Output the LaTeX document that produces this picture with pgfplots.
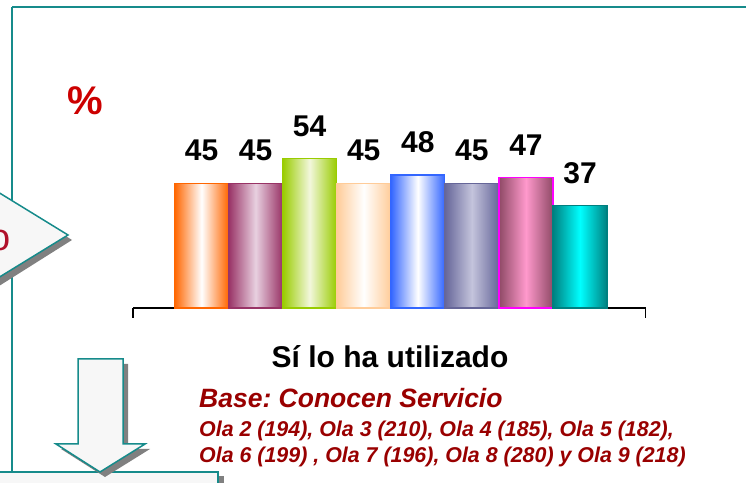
\documentclass[border=0pt]{standalone}
\usepackage{fontspec}
\setmainfont{Liberation Sans}
\usepackage{pgfplots}
\pgfplotsset{compat=1.18}

\definecolor{frame}{HTML}{168B8B}
\definecolor{boxfill}{HTML}{F7F7F7}
\definecolor{shadow}{HTML}{808080}
\definecolor{darkred}{HTML}{990000}
\definecolor{pct}{HTML}{CC0000}
\definecolor{chev}{HTML}{B0102A}

\newcommand{\fs}[1]{\fontsize{#1}{1.2\dimexpr#1\relax}\selectfont}
\frenchspacing

\begin{document}
\begin{tikzpicture}
\useasboundingbox (0,0) rectangle (746bp,483bp);
\clip (0,0) rectangle (746bp,483bp);

\begin{scope}[x=1bp,y=1bp]
% frame of the slide panel
\draw[frame, line width=2bp] (12,476) -- (760,476);
\draw[frame, line width=2bp] (12,476) -- (12,5);

% chevron on the left
\fill[shadow] (-20,301) -- (72,243) -- (-20,185) -- cycle;
\filldraw[fill=boxfill, draw=frame, line width=1.5bp] (-20,302) -- (68,248) -- (-20,194) -- cycle;
\node[anchor=base east, inner sep=0pt, text=chev, font=\fs{38bp}] at (11,233) {o};

% bottom box
\fill[shadow] (1,7) rectangle (224,-20);
\filldraw[fill=boxfill, draw=frame, line width=1.5bp] (-20,11) rectangle (218,-20);

% down arrow
\fill[shadow] (83,119) -- (128,119) -- (128,34) -- (150,34) -- (105,6) -- (61,34) -- (83,34) -- cycle;
\filldraw[fill=boxfill, draw=frame, line width=1.5bp]
  (78,124) -- (123,124) -- (123,39) -- (145,39) -- (100,11) -- (56,39) -- (78,39) -- cycle;

% texts
\node[anchor=base west, inner sep=0pt, text=pct, font=\bfseries\fs{40bp}] at (67,369) {\%};
\node[anchor=base, inner sep=0pt, font=\bfseries\fs{30bp}] at (390,116) {Sí lo ha utilizado};
\node[anchor=base west, inner sep=0pt, text=darkred, font=\bfseries\itshape\fs{26.5bp}] at (199,76) {Base: Conocen Servicio};
\node[anchor=base west, inner sep=0pt, text=darkred, font=\bfseries\itshape\fs{21.4bp}] at (199,47) {Ola 2 (194), Ola 3 (210), Ola 4 (185), Ola 5 (182),};
\node[anchor=base west, inner sep=0pt, text=darkred, font=\bfseries\itshape\fs{21.4bp}] at (199,21) {Ola 6 (199) , Ola 7 (196), Ola 8 (280) y Ola 9 (218)};
\end{scope}

\begin{axis}[
    at={(133bp,175bp)}, anchor=south west,
    scale only axis,
    width=512.7bp, height=277bp,
    xmin=-0.267, xmax=9.215,
    ymin=0, ymax=100,
    axis x line=bottom,
    axis y line=none,
    axis line style={-, line width=1.3bp, black},
    xtick={-0.267,9.215},
    xticklabels={},
    tick align=outside,
    major tick length=10bp,
    tick style={line width=1.3bp, black},
    ytick=\empty,
    ybar, bar width=1, bar shift=0pt,
    /pgf/number format/assume math mode=true,
    nodes near coords,
    every node near coord/.append style={font=\bfseries\fs{30bp}, inner sep=0pt, yshift=21.5bp, text=black},
    clip=false,
]
\addplot[left color={rgb,255:red,255;green,102;blue,0}, right color={rgb,255:red,255;green,102;blue,0}, middle color=white, draw={rgb,255:red,255;green,102;blue,0}, line width=1.2bp] coordinates {(1,45)};
\addplot[left color={rgb,255:red,153;green,51;blue,102}, right color={rgb,255:red,153;green,51;blue,102}, middle color={rgb,255:red,232;green,208;blue,224}, draw={rgb,255:red,153;green,51;blue,102}, line width=1.2bp] coordinates {(2,45)};
\addplot[left color={rgb,255:red,153;green,204;blue,0}, right color={rgb,255:red,153;green,204;blue,0}, middle color={rgb,255:red,242;green,247;blue,220}, draw={rgb,255:red,153;green,204;blue,0}, line width=1.2bp] coordinates {(3,54)};
\addplot[left color={rgb,255:red,255;green,204;blue,153}, right color={rgb,255:red,255;green,204;blue,153}, middle color=white, draw={rgb,255:red,255;green,204;blue,153}, line width=1.2bp] coordinates {(4,45)};
\addplot[left color={rgb,255:red,51;green,102;blue,255}, right color={rgb,255:red,51;green,102;blue,255}, middle color=white, draw={rgb,255:red,51;green,102;blue,255}, line width=1.2bp] coordinates {(5,48)};
\addplot[left color={rgb,255:red,102;green,102;blue,153}, right color={rgb,255:red,102;green,102;blue,153}, middle color={rgb,255:red,196;green,196;blue,220}, draw={rgb,255:red,102;green,102;blue,153}, line width=1.2bp] coordinates {(6,45)};
\addplot[left color={rgb,255:red,143;green,74;blue,102}, right color={rgb,255:red,143;green,74;blue,102}, middle color={rgb,255:red,255;green,153;blue,204}, draw={rgb,255:red,255;green,0;blue,255}, line width=1.2bp] coordinates {(7,47)};
\addplot[left color={rgb,255:red,0;green,128;blue,128}, right color={rgb,255:red,0;green,128;blue,128}, middle color={rgb,255:red,0;green,255;blue,255}, draw={rgb,255:red,0;green,128;blue,128}, line width=1.2bp] coordinates {(8,37)};
\end{axis}
\end{tikzpicture}
\end{document}
